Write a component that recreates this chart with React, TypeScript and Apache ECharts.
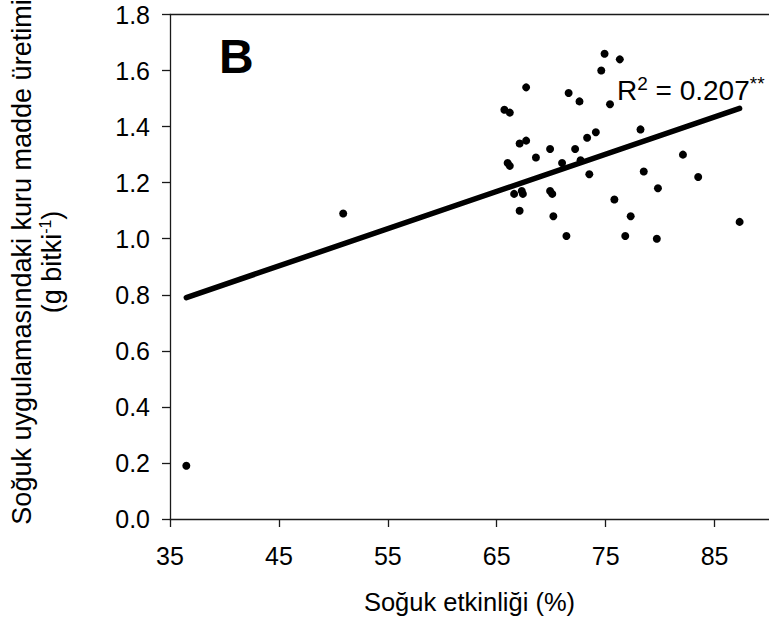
import React, { useEffect, useRef } from 'react';
import * as echarts from 'echarts';

// Soğuk etkinliği (%) – x values
const etkinlik = [
  74.9, 76.3, 74.6, 67.7, 71.6, 72.6, 75.4, 65.7, 66.2, 78.2,
  74.1, 73.3, 67.1, 67.7, 69.9, 72.2, 68.6, 82.1, 71.0, 72.7,
  66.0, 66.2, 78.5, 73.5, 83.5, 66.6, 67.3, 67.4, 69.9, 70.1,
  79.8, 75.8, 87.3, 67.1, 70.2, 77.3, 71.4, 76.8, 79.7, 50.9,
  36.5,
];
// Kuru madde üretimi (g bitki-1) – y values
const kuruMadde = [
  1.66, 1.64, 1.60, 1.54, 1.52, 1.49, 1.48, 1.46, 1.45, 1.39,
  1.38, 1.36, 1.34, 1.35, 1.32, 1.32, 1.29, 1.30, 1.27, 1.28,
  1.27, 1.26, 1.24, 1.23, 1.22, 1.16, 1.17, 1.16, 1.17, 1.16,
  1.18, 1.14, 1.06, 1.10, 1.08, 1.08, 1.01, 1.01, 1.00, 1.09,
  0.19,
];
// Regression line end points
const trendX = [36.5, 87.3];
const trendY = [0.79, 1.465];
// Axis ticks
const xTicks = [35, 45, 55, 65, 75, 85];

const FONT = '"Liberation Sans", Arial, sans-serif';

export default function App() {
  const ref = useRef<HTMLDivElement>(null);
  useEffect(() => {
    const chart = echarts.init(ref.current!, null, { renderer: 'svg' });
    const axisColor = '#1a1a1a';
    chart.setOption({
      animation: false,
      grid: { left: 170, top: 14.5, width: 600, height: 504.5, containLabel: false },
      xAxis: [
        {
          type: 'value',
          min: 35,
          max: 90,
          axisLine: { show: true, onZero: false, lineStyle: { color: axisColor, width: 1.3 } },
          axisTick: { show: true, length: 8, customValues: xTicks, lineStyle: { color: axisColor, width: 1.3 } },
          axisLabel: { customValues: xTicks, margin: 24, fontSize: 25, color: '#000', fontFamily: FONT },
          splitLine: { show: false },
          name: 'Soğuk etkinliği (%)',
          nameLocation: 'middle',
          nameGap: 70,
          nameTextStyle: { fontSize: 25.5, color: '#000', fontFamily: FONT },
        },
        {
          type: 'value',
          position: 'top',
          min: 35,
          max: 90,
          axisLine: { show: true, onZero: false, lineStyle: { color: axisColor, width: 1.3 } },
          axisTick: { show: false },
          axisLabel: { show: false },
          splitLine: { show: false },
        },
      ],
      yAxis: {
        type: 'value',
        min: 0,
        max: 1.8,
        interval: 0.2,
        axisLine: { show: true, onZero: false, lineStyle: { color: axisColor, width: 1.3 } },
        axisTick: { show: true, length: 8, lineStyle: { color: axisColor, width: 1.3 } },
        axisLabel: {
          margin: 20,
          fontSize: 25,
          color: '#000',
          fontFamily: FONT,
          formatter: (v: number) => v.toFixed(1),
        },
        splitLine: { show: false },
      },
      series: [
        {
          type: 'scatter',
          data: etkinlik.map((x, i) => [x, kuruMadde[i]]),
          symbol: 'circle',
          symbolSize: 8,
          itemStyle: { color: '#000', opacity: 1 },
        },
        {
          type: 'line',
          data: trendX.map((x, i) => [x, trendY[i]]),
          symbol: 'none',
          lineStyle: { color: '#000', width: 5.5, cap: 'round' },
        },
      ],
      graphic: [
        {
          type: 'text',
          x: 219,
          y: 56,
          style: {
            text: 'B',
            fontSize: 48,
            fontWeight: 'bold',
            fontFamily: FONT,
            fill: '#000',
            align: 'left',
            verticalAlign: 'middle',
          },
        },
        {
          type: 'text',
          x: 617,
          y: 90,
          style: {
            text: '{a|R}{s|2}{a| = 0.207}{s|**}',
            align: 'left',
            verticalAlign: 'middle',
            fill: '#000',
            rich: {
              a: { fontSize: 28, fontFamily: FONT, fill: '#000', lineHeight: 32 },
              s: { fontSize: 19, fontFamily: FONT, fill: '#000', lineHeight: 19, verticalAlign: 'top' },
            },
          },
        },
        {
          type: 'text',
          x: 37,
          y: 262,
          rotation: Math.PI / 2,
          style: {
            text: '{a|Soğuk uygulamasındaki kuru madde üretimi}\n{a|(g bitki}{s|-1}{a|)}',
            align: 'center',
            verticalAlign: 'middle',
            fill: '#000',
            rich: {
              a: { fontSize: 27, fontFamily: FONT, fill: '#000', lineHeight: 30, align: 'center' },
              s: { fontSize: 16, fontFamily: FONT, fill: '#000', lineHeight: 16, verticalAlign: 'top' },
            },
          },
        },
      ],
    });
    return () => chart.dispose();
  }, []);
  return (
    <div
      ref={ref}
      style={{ position: 'fixed', left: 0, top: 0, width: 769, height: 629, background: '#fff' }}
    />
  );
}
